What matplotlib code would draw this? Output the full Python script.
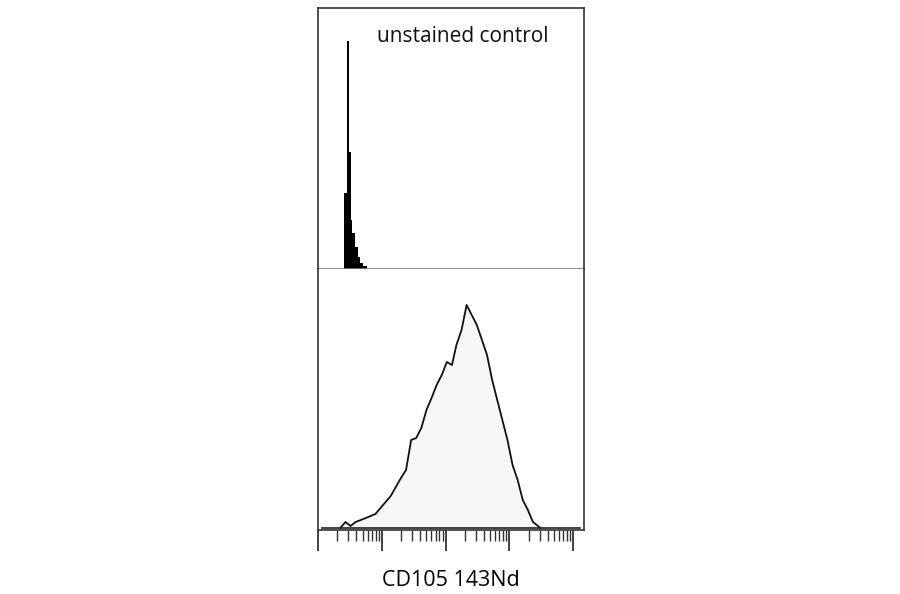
import matplotlib
matplotlib.use("Agg")
import matplotlib.pyplot as plt
import numpy as np
from matplotlib.ticker import LogLocator, NullFormatter

# Top histogram (unstained control): bin edges in log10 units, counts
top_edges = [0.41, 0.45, 0.49, 0.51, 0.54, 0.58, 0.62, 0.66, 0.71, 0.77]
top_counts = [76, 228, 117, 49, 36, 22, 12, 6, 3]

# Bottom histogram (CD105 stained): log10 position, counts
bot_x = [0.35, 0.43, 0.51, 0.59, 0.75, 0.90, 1.02, 1.14, 1.30, 1.38, 1.46, 1.54,
         1.62, 1.70, 1.78, 1.86, 1.94, 2.02, 2.10, 2.17, 2.25, 2.33, 2.41, 2.49,
         2.57, 2.65, 2.73, 2.81, 2.89, 2.97, 3.05, 3.13, 3.21, 3.29, 3.37, 3.49]
bot_counts = [0, 6, 2, 6, 10, 14, 23, 32, 50, 58, 88, 90, 100, 118, 130, 143,
              153, 166, 163, 183, 198, 223, 213, 203, 188, 173, 148, 128, 108,
              88, 63, 48, 28, 18, 6, 0]

xlabel = "CD105 143Nd"
top_label = "unstained control"

fig = plt.figure(figsize=(9, 5.94), dpi=100)
L, W = 318/900, 266/900
ax1 = fig.add_axes([L, 1-269/594, W, 261/594])
ax2 = fig.add_axes([L, 1-530/594, W, 261/594])

xmin, xmax = 1, 10**4.17
for ax in (ax1, ax2):
    ax.set_xscale("log")
    ax.set_xlim(xmin, xmax)
    ax.set_yticks([])
    for s in ax.spines.values():
        s.set_color("#333333"); s.set_linewidth(1.2)

# top
edges = 10**np.array(top_edges)
ax1.stairs(top_counts, edges, fill=True, color="black")
ax1.set_ylim(0, 261)
ax1.spines["bottom"].set_color("#777777")
ax1.tick_params(axis="x", which="both", length=0, labelbottom=False)
ax1.text(0.22, 0.89, top_label, transform=ax1.transAxes, fontsize=15,
         family="Open Sans", va="center", ha="left", color="#111111")

# bottom
bx = 10**np.array(bot_x)
ax2.fill_between(bx, 2, np.array(bot_counts)+2, color="#f7f7f7")
ax2.plot(bx, np.array(bot_counts)+2, color="#111111", lw=1.3)
ax2.axhline(2, xmin=0.015, xmax=0.985, color="#222222", lw=1.2)
ax2.set_ylim(0, 261)
ax2.spines["top"].set_visible(False)
ax2.xaxis.set_major_locator(LogLocator(base=10, numticks=10))
ax2.xaxis.set_minor_locator(LogLocator(base=10, subs=np.arange(2, 10), numticks=20))
ax2.xaxis.set_major_formatter(NullFormatter())
ax2.xaxis.set_minor_formatter(NullFormatter())
ax2.tick_params(axis="x", which="major", direction="out", length=15, width=1.3, color="#333333")
ax2.tick_params(axis="x", which="minor", direction="out", length=8, width=1.0, color="#333333")
ax2.set_xlabel(xlabel, fontsize=15.5, family="Open Sans", labelpad=10)

fig.savefig("out.png", dpi=100)
